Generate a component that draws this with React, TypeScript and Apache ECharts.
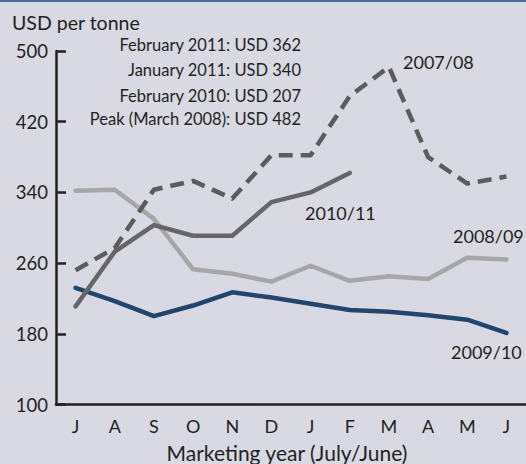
import React, { useEffect, useRef } from "react";
import * as echarts from "echarts";

const months = ["J", "A", "S", "O", "N", "D", "J", "F", "M", "A", "M", "J"];
const yTicks = [100, 180, 260, 340, 420, 500];
const s0708 = [252, 277, 343, 353, 333, 382, 382, 449, 482, 380, 350, 358];
const s0809 = [342, 343, 310, 253, 248, 239, 257, 240, 245, 242, 266, 264];
const s0910 = [232, 217, 200, 212, 227, 221, 214, 207, 205, 201, 196, 181];
const s1011 = [211, 273, 303, 291, 291, 329, 340, 362];
const notes = [
  "February 2011: USD 362",
  "January 2011: USD 340",
  "February 2010: USD 207",
  "Peak (March 2008): USD 482",
];

const FONT = "Lato";
const TEXT = "#231f20";

export default function App() {
  const ref = useRef<HTMLDivElement>(null);
  useEffect(() => {
    document.body.style.margin = "0";
    const chart = echarts.init(ref.current!, null, { renderer: "svg" });
    const noteY = [45, 70, 96, 119];
    chart.setOption({
      animation: false,
      backgroundColor: "#d9d9e3",
      textStyle: { fontFamily: FONT },
      grid: { left: 56, right: -2, top: 51, bottom: 59.5, containLabel: false },
      xAxis: {
        type: "category",
        data: months,
        boundaryGap: true,
        axisLine: { lineStyle: { color: TEXT, width: 2.5 } },
        axisTick: { inside: true, length: 8, alignWithLabel: true, lineStyle: { color: TEXT, width: 2 } },
        axisLabel: { color: TEXT, fontSize: 18, margin: 12, fontFamily: FONT },
        splitLine: { show: false },
      },
      yAxis: {
        type: "value",
        min: yTicks[0],
        max: yTicks[yTicks.length - 1],
        interval: 80,
        axisLine: { show: true, lineStyle: { color: TEXT, width: 2.5 } },
        axisTick: { show: true, inside: true, length: 10, lineStyle: { color: TEXT, width: 2.5 } },
        axisLabel: { color: TEXT, fontSize: 18.5, margin: 8, fontFamily: FONT },
        splitLine: { show: false },
      },
      series: [
        {
          name: "2008/09",
          type: "line",
          data: s0809,
          symbol: "none",
          lineStyle: { color: "#a6a6a8", width: 4.5, cap: "round", join: "round" },
        },
        {
          name: "2009/10",
          type: "line",
          data: s0910,
          symbol: "none",
          lineStyle: { color: "#21466d", width: 4.5, cap: "round", join: "round" },
        },
        {
          name: "2010/11",
          type: "line",
          data: s1011,
          symbol: "none",
          lineStyle: { color: "#666668", width: 4.5, cap: "round", join: "round" },
        },
        {
          name: "2007/08",
          type: "line",
          data: s0708,
          symbol: "none",
          lineStyle: { color: "#5c5c5e", width: 4.5, type: [14, 8], cap: "butt", join: "round" },
        },
      ],
      graphic: [
        { type: "rect", left: 0, top: 0, shape: { width: 526, height: 2 }, style: { fill: "#4d6d95" } },
        { type: "text", x: 12, y: 22, style: { text: "USD per tonne", font: `19.5px ${FONT}`, fill: TEXT, textVerticalAlign: "middle" } },
        ...notes.map((t, i) => ({
          type: "text",
          x: 301,
          y: noteY[i],
          style: { text: t, font: `16.5px ${FONT}`, fill: TEXT, textAlign: "right", textVerticalAlign: "middle" },
        })),
        { type: "text", x: 403, y: 62, style: { text: "2007/08", font: `18px ${FONT}`, fill: TEXT, textVerticalAlign: "middle" } },
        { type: "text", x: 305, y: 213, style: { text: "2010/11", font: `18px ${FONT}`, fill: TEXT, textVerticalAlign: "middle" } },
        { type: "text", x: 453, y: 236, style: { text: "2008/09", font: `18px ${FONT}`, fill: TEXT, textVerticalAlign: "middle" } },
        { type: "text", x: 451, y: 352, style: { text: "2009/10", font: `18px ${FONT}`, fill: TEXT, textVerticalAlign: "middle" } },
        {
          type: "text",
          x: 287,
          y: 452,
          style: { text: "Marketing year (July/June)", font: `21px ${FONT}`, fill: TEXT, textAlign: "center", textVerticalAlign: "middle" },
        },
      ],
    });
    return () => chart.dispose();
  }, []);
  return <div ref={ref} style={{ width: 526, height: 464 }} />;
}
